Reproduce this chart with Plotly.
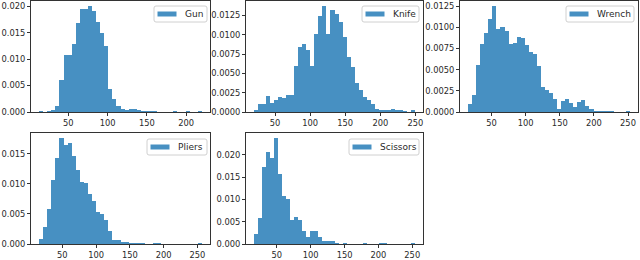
import plotly.graph_objects as go

names = ["Gun", "Knife", "Wrench", "Pliers", "Scissors"]

gun = [0.0001, 0, 0.0001, 0.0003, 0.0012, 0.0061, 0.0107, 0.0107, 0.0128, 0.0169,
       0.0194, 0.0194, 0.0200, 0.0192, 0.0171, 0.0149, 0.0124, 0.0044, 0.0025, 0.0011,
       0.0006, 0.0003, 0.0005, 0.0005, 0.0003, 0.0002, 0.0001, 0.0001, 0.0001, 0,
       0, 0, 0, 0.0001, 0, 0, 0.0001, 0, 0, 0.0001]
knife = [0.0002, 0.0011, 0.0011, 0.0021, 0.0012, 0.0015, 0.0020, 0.0018, 0.0022, 0.0022,
         0.0059, 0.0084, 0.0088, 0.0081, 0.0060, 0.0101, 0.0124, 0.0137, 0.0101, 0.0132,
         0.0127, 0.0116, 0.0097, 0.0071, 0.0058, 0.0037, 0.0028, 0.0019, 0.0015, 0.0010,
         0.0004, 0.0002, 0.0002, 0.0003, 0.0004, 0.0002, 0.0002, 0.0001, 0, 0.0003]
wrench = [0.0010, 0.0020, 0.0055, 0.0080, 0.0093, 0.0110, 0.0125, 0.0098, 0.0100, 0.0096,
          0.0081, 0.0082, 0.0089, 0.0087, 0.0079, 0.0071, 0.0069, 0.0054, 0.0030, 0.0026,
          0.0022, 0.0015, 0.0004, 0.0013, 0.0015, 0.0011, 0.0006, 0.0012, 0.0014, 0.0007,
          0.0004, 0.0001, 0.0001, 0.0001, 0.0001, 0.0001, 0, 0, 0, 0.0001]
pliers = [0.0009, 0.0028, 0.0058, 0.0106, 0.0144, 0.0176, 0.0165, 0.0168, 0.0146, 0.0123,
          0.0104, 0.0102, 0.0084, 0.0071, 0.0053, 0.0050, 0.0040, 0.0021, 0.0007, 0.0006,
          0.0004, 0.0003, 0.0002, 0.0001, 0.0001, 0.0001, 0, 0, 0.0001, 0.0001,
          0, 0, 0, 0, 0, 0, 0, 0, 0, 0.0002]
scissors = [0.0022, 0.0058, 0.0173, 0.0207, 0.0192, 0.0237, 0.0158, 0.0107, 0.0102, 0.0054,
            0.0061, 0.0054, 0.0030, 0.0015, 0.0030, 0.0030, 0.0015, 0.0007, 0.0007, 0.0007,
            0.0002, 0, 0.0002, 0, 0, 0, 0, 0.0002, 0, 0,
            0, 0.0002, 0.0002, 0, 0, 0, 0, 0, 0, 0.0002]

series = [gun, knife, wrench, pliers, scissors]
data_min = [12.8, 20.0, 15.6, 15.7, 16.3]
data_max = [220.0, 249.4, 252.8, 256.7, 254.0]

x_ticks = [[50, 100, 150, 200], [50, 100, 150, 200, 250], [50, 100, 150, 200, 250],
           [50, 100, 150, 200, 250], [50, 100, 150, 200, 250]]
y_ticks = [[0, 0.005, 0.010, 0.015, 0.020],
           [0, 0.0025, 0.0050, 0.0075, 0.0100, 0.0125],
           [0, 0.0025, 0.0050, 0.0075, 0.0100, 0.0125],
           [0, 0.005, 0.010, 0.015],
           [0, 0.005, 0.010, 0.015, 0.020]]
y_fmt = [".3f", ".4f", ".4f", ".3f", ".3f"]

W, H = 640, 260
# panel boxes in pixels: (left, right, top, bottom)
boxes = [(31, 210, 1, 112), (246, 423, 1, 112), (460, 638, 1, 112),
         (31, 210, 133, 244), (246, 423, 133, 244)]
# legend boxes in pixels: (left, right, top, bottom)
legend_boxes = [(154, 207, 6, 22), (362, 419, 6, 22), (566, 634, 6, 22),
                (147, 207, 139, 155), (349, 419, 139, 155)]

color = "rgba(31,119,180,0.82)"
axcol = "#333333"
tick_font = dict(family="DejaVu Sans", size=8.3, color="#2a2a2a")
leg_font = dict(family="DejaVu Sans", size=9, color="#2a2a2a")


def X(px):
    return px / W


def Y(py):
    return 1 - py / H


fig = go.Figure()
layout = dict(width=W, height=H, autosize=False, margin=dict(l=0, r=0, t=0, b=0, pad=0),
              paper_bgcolor="white", plot_bgcolor="white", bargap=0,
              font=tick_font, showlegend=False)
shapes = []
annotations = []

for i, (name, vals) in enumerate(zip(names, series)):
    n = len(vals)
    lo, hi = data_min[i], data_max[i]
    bw = (hi - lo) / n
    centers = [lo + bw * (k + 0.5) for k in range(n)]
    ax = "" if i == 0 else str(i + 1)
    fig.add_trace(go.Bar(x=centers, y=vals, width=bw, name=name,
                         marker=dict(color=color, line=dict(width=0)),
                         xaxis="x" + ax, yaxis="y" + ax))
    l, r, t, b = boxes[i]
    R = hi - lo
    ymax = max(vals) * 1.05
    layout["xaxis" + ax] = dict(domain=[X(l), X(r)], anchor="y" + ax,
                                range=[lo - 0.05 * R, hi + 0.05 * R],
                                tickvals=x_ticks[i], ticks="outside", ticklen=3,
                                tickcolor=axcol, showgrid=False, zeroline=False,
                                showline=True, linecolor=axcol, linewidth=1, mirror=True,
                                tickfont=tick_font, automargin=False)
    layout["yaxis" + ax] = dict(domain=[Y(b), Y(t)], anchor="x" + ax,
                                range=[0, ymax], tickvals=y_ticks[i], tickformat=y_fmt[i],
                                ticks="outside", ticklen=3, tickcolor=axcol,
                                showgrid=False, zeroline=False, showline=True,
                                linecolor=axcol, linewidth=1, mirror=True, tickfont=tick_font,
                                automargin=False)

    # legend (matplotlib style): rounded frame, patch, label
    bl, br, bt, bb = legend_boxes[i]
    rr = 2
    path = (f"M {X(bl + rr)},{Y(bt)} L {X(br - rr)},{Y(bt)} Q {X(br)},{Y(bt)} {X(br)},{Y(bt + rr)} "
            f"L {X(br)},{Y(bb - rr)} Q {X(br)},{Y(bb)} {X(br - rr)},{Y(bb)} "
            f"L {X(bl + rr)},{Y(bb)} Q {X(bl)},{Y(bb)} {X(bl)},{Y(bb - rr)} "
            f"L {X(bl)},{Y(bt + rr)} Q {X(bl)},{Y(bt)} {X(bl + rr)},{Y(bt)} Z")
    shapes.append(dict(type="path", path=path, xref="paper", yref="paper",
                       line=dict(color="#d0d0d0", width=1),
                       fillcolor="rgba(255,255,255,0.8)", layer="above"))
    cy = (bt + bb) / 2
    shapes.append(dict(type="rect", xref="paper", yref="paper",
                       x0=X(bl + 3.5), x1=X(bl + 22.5), y0=Y(cy - 2.5), y1=Y(cy + 2.5),
                       line=dict(width=0), fillcolor=color, layer="above"))
    annotations.append(dict(text=name, xref="paper", yref="paper", x=X(bl + 29), y=Y(cy),
                            xanchor="left", yanchor="middle", showarrow=False,
                            font=leg_font))

layout["shapes"] = shapes
layout["annotations"] = annotations
fig.update_layout(**layout)

post = ("document.documentElement.style.margin='0';"
        "document.body.style.margin='0';document.body.style.padding='0';"
        "document.body.style.overflow='hidden';")
fig.write_html("out.html", config={"responsive": False, "displayModeBar": False},
               default_width="640px", default_height="260px", post_script=post)
